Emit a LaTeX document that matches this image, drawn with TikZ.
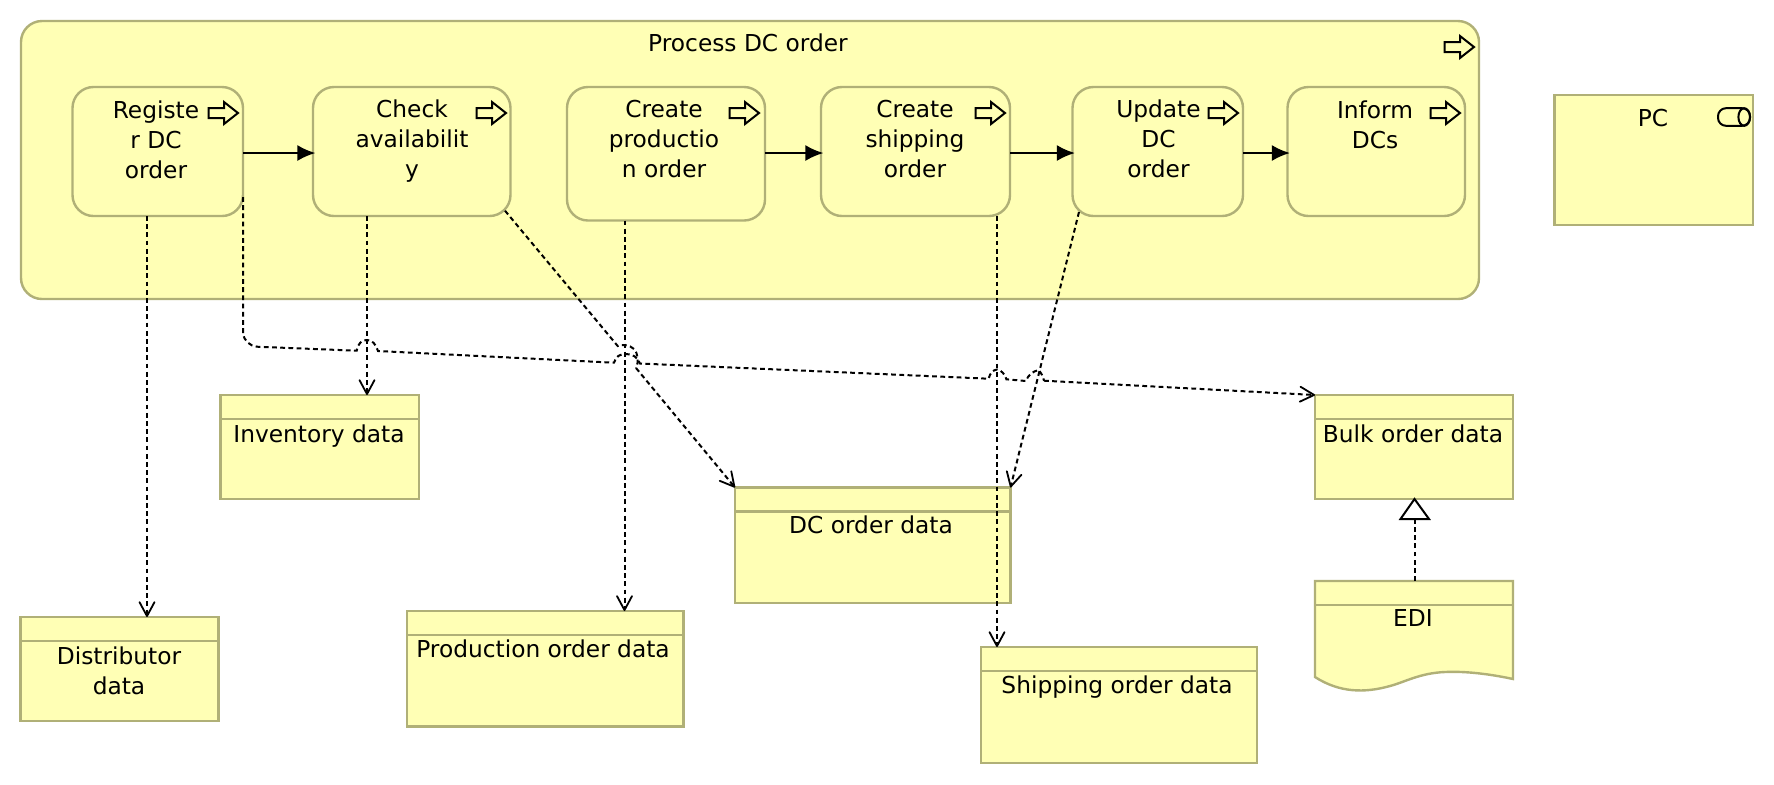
\documentclass[tikz,border=0pt]{standalone}
\usepackage{fontspec}
\setmainfont{DejaVu Sans}
\usetikzlibrary{arrows.meta,calc}
\definecolor{fillY}{HTML}{FFFFB5}
\definecolor{edgeY}{HTML}{B0B077}
\tikzset{
  shp/.style={draw=edgeY,fill=fillY,line width=1.2pt,inner sep=0pt,outer sep=0pt,anchor=north west,rectangle},
  rnd/.style={shp,rounded corners=10.5pt},
  txt/.style={font=\fontsize{11.65pt}{15pt}\selectfont,align=center,inner sep=0pt,text=black},
  dep/.style={draw=black,line width=1pt,dash pattern=on 2.4pt off 1.7pt,-{Straight Barb[length=7pt,width=7.5pt,line width=0.9pt,round]}},
  dashln/.style={draw=black,line width=1pt,dash pattern=on 2.4pt off 1.7pt},
  flow/.style={draw=black,line width=1pt,shorten >=-1.2pt,-{Latex[length=9pt,width=8pt]}},
  hdr/.style={draw=edgeY,line width=1.2pt},
  ico/.style={draw=black,line width=1pt,fill=fillY},
}
% arrow icon: tip at (#1,#2)
\newcommand{\procicon}[2]{%
  \draw[ico,line join=miter] (#1,#2) -- ++(-14,-11) -- ++(0,6) -- ++(-15.5,0) -- ++(0,10) -- ++(15.5,0) -- ++(0,6) -- cycle;}
\newcommand{\mkbox}[6]{% style,name,x1,y1,x2,y2
  \node[#1,minimum width={(#5-#3)*0.5pt},minimum height={(#6-#4)*0.5pt}] (#2) at (#3,#4) {};}
\begin{document}
\begin{tikzpicture}[x=0.5pt,y=-0.5pt]
\useasboundingbox (0,0) rectangle (1774,784);
\fill[white] (0,0) rectangle (1774,784);
% group
\mkbox{rnd}{main}{21}{21}{1479}{299}
\node[txt] (maint) at (748,43) {Process DC order};
\procicon{1474}{47}
% processes
\mkbox{rnd}{reg}{72.5}{87}{243}{216}
\mkbox{rnd}{chk}{313}{87}{510.5}{216}
\mkbox{rnd}{prd}{567}{87}{765}{220.5}
\mkbox{rnd}{shp}{821}{87}{1010}{216}
\mkbox{rnd}{upd}{1072.5}{87}{1243}{216}
\mkbox{rnd}{inf}{1287.5}{87}{1465}{216}
\node[txt] (regt) at (156,139.5) {Registe\\r DC\\order};
\node[txt] (chkt) at (412,141.5) {Check\\availabilit\\y};
\node[txt] (prdt) at (664,139.5) {Create\\productio\\n order};
\node[txt] (shpt) at (915,139.5) {Create\\shipping\\order};
\node[txt] (updt) at (1158.5,139) {Update\\DC\\order};
\node[txt] (inft) at (1375,124.5) {Inform\\DCs};
\procicon{238}{113}
\procicon{506}{113}
\procicon{759}{113}
\procicon{1005}{113}
\procicon{1238}{113}
\procicon{1460}{113}
% PC
\mkbox{shp}{pc}{1554.5}{95}{1753}{225}
\node[txt] (pct) at (1653,118) {PC};
\draw[draw=black,line width=1pt,rounded corners=4pt] (1718,108.2) rectangle (1750,125.8);
\draw[draw=black,line width=1pt] (1744.2,117) ellipse[x radius=5.8,y radius=8.8];
% data objects
\mkbox{shp}{inv}{220.5}{395}{419}{499}
\draw[hdr] (inv.north west)++(0,24) -- ++(198.5,0);
\node[txt] (invt) at (319,436.5) {Inventory data};
\mkbox{shp}{blk}{1315}{395}{1513}{499}
\draw[hdr] (blk.north west)++(0,24) -- ++(198,0);
\node[txt] (blkt) at (1413,433.5) {Bulk order data};
\mkbox{shp}{dco}{735}{487.5}{1010.5}{603}
\draw[hdr] (dco.north west)++(0,24) -- ++(275.5,0);
\node[txt] (dcot) at (871,525) {DC order data};
\mkbox{shp}{dst}{20.5}{617}{218.5}{721}
\draw[hdr] (dst.north west)++(0,24) -- ++(198,0);
\node[txt] (dstt) at (119,670.5) {Distributor\\data};
\mkbox{shp}{pod}{407}{611}{683.5}{726.5}
\draw[hdr] (pod.north west)++(0,24) -- ++(276.5,0);
\node[txt] (podt) at (543,649) {Production order data};
\mkbox{shp}{sod}{981}{647}{1257}{763}
\draw[hdr] (sod.north west)++(0,24) -- ++(276,0);
\node[txt] (sodt) at (1117,687.5) {Shipping order data};
% EDI document
\draw[shp] (1315,581) -- (1513,581) -- (1513,679)
  .. controls (1490,674) and (1465,671) .. (1445,672)
  .. controls (1420,673) and (1405,682) .. (1390,686)
  .. controls (1365,693) and (1340,693) .. (1315,677) -- cycle;
\draw[hdr] (1315,605) -- (1513,605);
\node[txt] (edit) at (1413,618) {EDI};
\coordinate (edi) at (1414.5,581);
% flows
\draw[flow] (reg.east |- 0,153) -- (chk.west |- 0,153);
\draw[flow] (prd.east |- 0,153) -- (shp.west |- 0,153);
\draw[flow] (shp.east |- 0,153) -- (upd.west |- 0,153);
\draw[flow] (upd.east |- 0,153) -- (inf.west |- 0,153);
% access
\draw[dep] (reg.south -| 147,0) -- (dst.north -| 147,0);
\draw[dep] (chk.south -| 367,0) -- (inv.north -| 367,0);
\draw[dep] (prd.south -| 624.5,0) -- (pod.north -| 624.5,0);
\draw[dep] (shp.south -| 997,0) -- (sod.north -| 997,0);
\draw[dep] (1079,212) -- (dco.north east);
\draw[dashln] (505,210.7) -- (617.7,346) .. controls (622,344) and (630,345) .. (634,349) .. controls (638,353) and (639,362) .. (636,368);
\draw[dep] (636,368) -- (dco.north west);
\draw[dashln] (243,197) -- (243,333) .. controls (244,341) and (250,346) .. (257,346.7) -- (356.7,350.7)
  .. controls (358,343) and (362,340) .. (367,340) .. controls (372,340) and (376,344) .. (378,351)
  -- (614,362.7) .. controls (616,356) and (620,354) .. (626,354) .. controls (632,354) and (638,357) .. (640,363.5)
  -- (988.6,378.7) .. controls (990,373) and (993,370) .. (997,369.5) .. controls (1001,370) and (1005,374) .. (1006.4,379.3)
  -- (1026,381) .. controls (1028,375) and (1033,371) .. (1039,370) .. controls (1041,373) and (1043,376) .. (1044,380.7)
  coordinate (bk);
\draw[dep] (bk) -- (blk.north west);
% realization
\draw[dashln] (edi) -- (1414.5,519);
\draw[draw=black,line width=1pt,fill=white,line join=miter] (blk.south -| 1414.5,0) -- (1429,519) -- (1400.5,519) -- cycle;
\end{tikzpicture}
\end{document}
